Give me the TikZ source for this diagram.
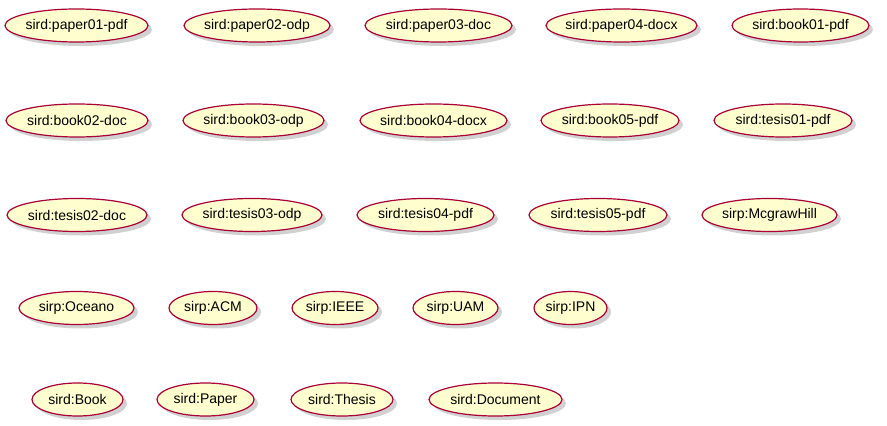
\documentclass[tikz,border=0pt]{standalone}
\usepackage{fontspec}
\setmainfont{Liberation Sans}
\usetikzlibrary{shapes.geometric,shadows}
\definecolor{ucfill}{HTML}{FEFECE}
\definecolor{ucline}{HTML}{A80036}
\tikzset{
  usecase/.style={ellipse, draw=ucline, fill=ucfill, line width=1.2pt, inner xsep=-16pt, inner ysep=0pt,
    minimum height=33pt, font=\fontsize{14}{16}\selectfont,
    drop shadow={shadow xshift=4pt, shadow yshift=-4pt, fill=black!40, opacity=0.45}}
}
\begin{document}
\begin{tikzpicture}[x=1pt, y=1pt]
    \useasboundingbox (0,0) rectangle (887,426);
    \foreach \x/\y/\w/\n/\t in {76.5/400.5/143/pap1/sird:paper01-pdf, 257/400.5/146/pap2/sird:paper02-odp,
      438.5/400.5/147/pap3/sird:paper03-doc, 621.5/400.5/151/pap4/sird:paper04-docx,
      800.5/400.5/137/bk1/sird:book01-pdf} {
      \node[usecase, minimum width=\w] (\n) at (\x,\y) {\t};
    }
    \foreach \x/\y/\w/\n/\t in {77/305.5/142/bk2/sird:book02-doc, 253.5/305.5/141/bk3/sird:book03-odp,
      433.5/305.5/147/bk4/sird:book04-docx, 610/305.5/138/bk5/sird:book05-pdf,
      783/305.5/138/ts1/sird:tesis01-pdf} {
      \node[usecase, minimum width=\w] (\n) at (\x,\y) {\t};
    }
    \foreach \x/\y/\w/\n/\t in {77/211/140/ts2/sird:tesis02-doc, 252/211/140/ts3/sird:tesis03-odp,
      425.5/211/137/ts4/sird:tesis04-pdf, 598/211/138/ts5/sird:tesis05-pdf,
      769.5/211/135/mgh/sirp:McgrawHill} {
      \node[usecase, minimum width=\w] (\n) at (\x,\y) {\t};
    }
    \foreach \x/\y/\w/\n/\t in {76.5/118/115/oce/sirp:Oceano, 213/118/88/acm/sirp:ACM,
      335/118/86/ieee/sirp:IEEE, 455.5/118/85/uam/sirp:UAM, 570.5/118/73/ipn/sirp:IPN} {
      \node[usecase, minimum width=\w] (\n) at (\x,\y) {\t};
    }
    \foreach \x/\y/\w/\n/\t in {77.5/26.5/91/book/sird:Book, 205.5/26.5/97/paper/sird:Paper,
      342/26.5/102/thesis/sird:Thesis, 495.5/26.5/133/doc/sird:Document} {
      \node[usecase, minimum width=\w] (\n) at (\x,\y) {\t};
    }
  \end{tikzpicture}
\end{document}
